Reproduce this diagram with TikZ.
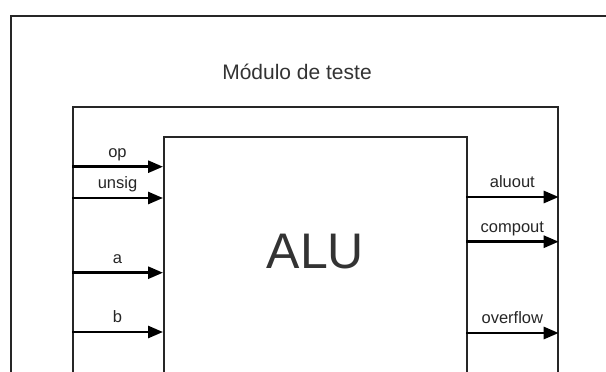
\documentclass[tikz,border=0pt]{standalone}
\usepackage{fontspec}
\setmainfont{Liberation Sans}
\usetikzlibrary{arrows.meta, positioning}

\begin{document}
\begin{tikzpicture}[
    x=1pt, y=-1pt,
    caixa/.style={rectangle, draw=black!85, line width=1.7pt, inner sep=0pt, anchor=north west},
    sinal/.style={draw=black, line width=2.7pt, -{Triangle[length=15pt, width=12pt]}},
    rotulo/.style={font=\fontsize{16.5}{19}\selectfont, text=black!85, anchor=base, inner sep=0pt, yshift=9.5pt},
    titulo/.style={font=\fontsize{21}{25}\selectfont, text=black!80},
    nomealu/.style={font=\fontsize{50}{60}\selectfont, text=black!80}
]
\useasboundingbox (0,0) rectangle (606,372);
\clip (0,0) rectangle (606,372);

% ─── Bancada de teste (continua fora do recorte) ─────────────────────
\node[caixa, minimum width=640pt, minimum height=420pt] (bancada) at (10,15) {};
\node[titulo] (tit) at (297,72) {Módulo de teste};

% ─── Módulo e ALU ────────────────────────────────────────────────────
\node[caixa, minimum width=485pt, minimum height=320pt] (modulo) at (72,106) {};
\node[caixa, minimum width=303pt, minimum height=300pt] (alu) at (163,136) {};
\node[nomealu] (alunome) at ([yshift=-115.5pt]alu.north) {ALU};

% ─── Entradas ────────────────────────────────────────────────────────
\foreach \nome/\y in {op/166.7, unsig/198, a/272.7, b/332} {
    \coordinate (e-\nome) at (72,\y);
    \draw[sinal] (e-\nome) -- (e-\nome -| alu.west) node[rotulo, midway] {\nome};
}

% ─── Saídas ──────────────────────────────────────────────────────────
\foreach \nome/\y in {aluout/197, compout/241.7, overflow/333} {
    \coordinate (s-\nome) at (466,\y);
    \draw[sinal] (s-\nome) -- (s-\nome -| modulo.east) node[rotulo, midway] {\nome};
}

\end{tikzpicture}
\end{document}
